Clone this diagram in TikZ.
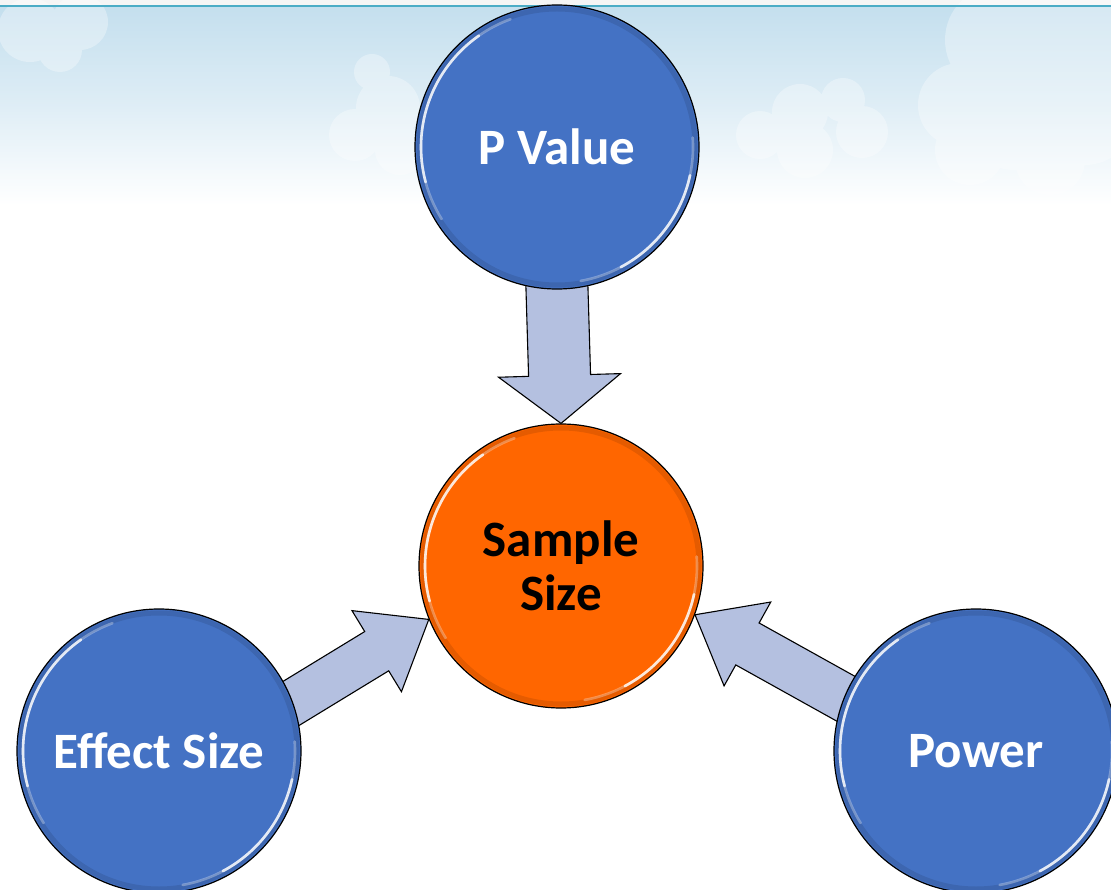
\documentclass[tikz,border=0pt]{standalone}
\usepackage{fontspec}
\setmainfont{Carlito}
\usetikzlibrary{calc}
\definecolor{nodeblue}{HTML}{4472C4}
\definecolor{nodeorange}{HTML}{FF6600}
\definecolor{arrowfill}{HTML}{B4C0E0}
\definecolor{topline}{HTML}{4BACC6}
\definecolor{skyblue}{HTML}{C4DFEE}
\pgfdeclarelayer{sky}
\pgfdeclarelayer{arrows}
\pgfsetlayers{sky,arrows,main}
% start, end, shaft half width, head half width, head length
\newcommand{\fatarrow}[5]{%
  \draw[blockarrow] let \p1=(#1), \p2=(#2), \n1={atan2(\y2-\y1,\x2-\x1)} in
    ($(\p1)+(\n1+180:18pt)+(\n1+90:#3)$) --
    ($(\p2)+(\n1+180:#5)+(\n1+90:#3)$) --
    ($(\p2)+(\n1+180:#5)+(\n1+90:#4)$) --
    (\p2) --
    ($(\p2)+(\n1+180:#5)+(\n1-90:#4)$) --
    ($(\p2)+(\n1+180:#5)+(\n1-90:#3)$) --
    ($(\p1)+(\n1+180:18pt)+(\n1-90:#3)$) -- cycle;}
\newcommand{\glossy}[1]{%
  \draw[rimshade] (#1.center) circle[radius=138pt];
  \draw[gloss, opacity=0.3] ($(#1.center)+(110:136pt)$) arc[start angle=110, end angle=212, radius=136pt];
  \draw[gloss] ($(#1.center)+(125:136pt)$) arc[start angle=125, end angle=195, radius=136pt];
  \draw[gloss, opacity=0.3] ($(#1.center)+(-80:136pt)$) arc[start angle=-80, end angle=4, radius=136pt];
  \draw[gloss] ($(#1.center)+(-62:136pt)$) arc[start angle=-62, end angle=-12, radius=136pt];}
\begin{document}
\begin{tikzpicture}[x=1pt,y=1pt,
  bubble/.style={circle, draw=black, line width=1.2pt, minimum size=284pt, inner sep=0pt,
    font=\bfseries\fontsize{51}{54}\selectfont, align=center},
  bluebub/.style={bubble, fill=nodeblue, text=white},
  orangebub/.style={bubble, fill=nodeorange, text=black},
  blockarrow/.style={fill=arrowfill, draw=black, line width=1.1pt, line join=miter},
  gloss/.style={white, line width=2.6pt, opacity=0.8, line cap=round},
  rimshade/.style={black, line width=5pt, opacity=0.10},
  cloud/.style={fill=white, opacity=0.32}
]
\useasboundingbox (0,0) rectangle (1111,-890);

\begin{pgfonlayer}{sky}
  \fill[white] (0,0) rectangle (1111,-890);
  \shade[top color=skyblue, bottom color=white, middle color=skyblue!55] (0,-6) rectangle (1111,-205);
  \fill[gray!8] (0,0) rectangle (1111,-6);
  % clouds
  \fill[cloud] (1000,-40) circle[radius=55pt] (1065,-35) circle[radius=60pt]
    (960,-105) circle[radius=42pt] (1015,-115) circle[radius=55pt] (1085,-115) circle[radius=50pt]
    (970,-150) circle[radius=35pt] (1050,-160) circle[radius=35pt];
  \fill[cloud] (760,-135) circle[radius=24pt] (800,-112) circle[radius=28pt]
    (843,-100) circle[radius=22pt] (862,-132) circle[radius=26pt] (805,-150) circle[radius=28pt];
  \fill[cloud] (372,-72) circle[radius=18pt] (388,-108) circle[radius=32pt]
    (355,-135) circle[radius=26pt] (400,-150) circle[radius=25pt];
  \fill[cloud] (30,-30) circle[radius=32pt] (80,-22) circle[radius=28pt] (60,-50) circle[radius=22pt];
  \draw[topline, line width=2pt] (0,-6) -- (1111,-6);
\end{pgfonlayer}

\node[bluebub] (pv) at (557,-147) {P Value};
\node[orangebub] (ss) at (561,-566) {Sample\\Size};
\node[bluebub] (es) at (159,-751) {Effect Size};
\node[bluebub] (pw) at (976,-751) {Power};

\glossy{pv}
\glossy{ss}
\glossy{es}
\glossy{pw}

\begin{pgfonlayer}{arrows}
  \fatarrow{pv.south}{ss.north}{31pt}{61pt}{48pt}
  \fatarrow{es.20.6}{ss.202}{23pt}{47.5pt}{61pt}
  \fatarrow{pw.158.6}{ss.340.8}{24pt}{48pt}{60pt}
\end{pgfonlayer}
\end{tikzpicture}
\end{document}
